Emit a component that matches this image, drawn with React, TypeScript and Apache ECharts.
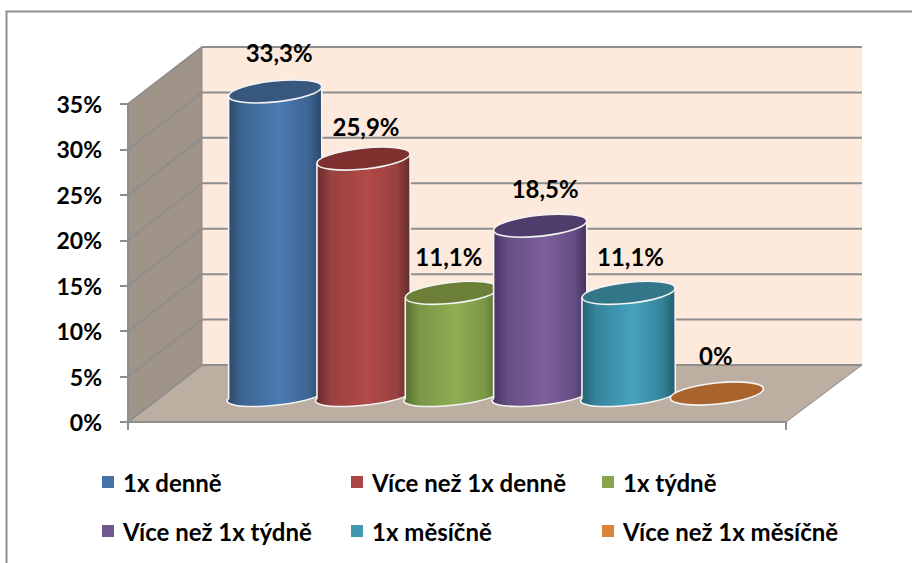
import React, { useEffect, useRef } from "react";
import * as echarts from "echarts";

const categories = ["1x denně", "Více než 1x denně", "1x týdně", "Více než 1x týdně", "1x měsíčně", "Více než 1x měsíčně"];
const values = [33.3, 25.9, 11.1, 18.5, 11.1, 0];
const yTicks = [0, 5, 10, 15, 20, 25, 30, 35];
const legendColors = ["#4572a7", "#aa4643", "#89a54e", "#71588f", "#4198af", "#db843d"];
const topColors = ["#37577f", "#7f3130", "#6b7f38", "#4f3c6c", "#337688", "#a8642c"];
const bodyDark = ["#294868", "#622b2a", "#536a2f", "#44305c", "#215d6e", "#8a4f22"];
const bodyMid = ["#3d6593", "#974140", "#7a9647", "#664f84", "#34849a", "#b56e30"];
const bodyLight = ["#4b7ab3", "#b24a48", "#90ae52", "#7c5f9c", "#46a2bd", "#db843d"];
const labelNudgeX = [4, 2.5, -3, 5, 2, -1];
const labelNudgeY = [-3, 4, 0, -1, 0, -2];
const legendLeft = [102, 351, 602, 102, 351, 602];
const legendTop = [470, 470, 470, 519, 519, 519];

const FONT = "Lato, Carlito, sans-serif";
const DEPTH_X = 74;
const DEPTH_Y = -57;
const GRID = "#8e8e8e";

function wallsItem(params: any, api: any) {
  const tick = api.value(0);
  const fl = api.coord([0, tick]);
  const fr = api.coord([1, tick]);
  const children: any[] = [];
  if (tick === 0) {
    const top = api.coord([0, 35]);
    const bl = [fl[0] + DEPTH_X, fl[1] + DEPTH_Y];
    const br = [fr[0] + DEPTH_X + 2, fr[1] + DEPTH_Y];
    const tl = [top[0] + DEPTH_X, top[1] + DEPTH_Y];
    const tr = [br[0], tl[1]];
    children.push(
      { type: "polygon", shape: { points: [tl, tr, br, bl] }, style: { fill: "#fdeadc" } },
      { type: "polygon", shape: { points: [[top[0], top[1]], tl, bl, fl] }, style: { fill: "#a09488", stroke: GRID, lineWidth: 1 } },
      { type: "polygon", shape: { points: [fl, bl, br, fr] }, style: { fill: "#bcaea0", stroke: GRID, lineWidth: 1 } }
    );
  }
  const bl = [fl[0] + DEPTH_X, fl[1] + DEPTH_Y];
  const br = [fr[0] + DEPTH_X + 2, fr[1] + DEPTH_Y];
  children.push(
    { type: "line", shape: { x1: fl[0], y1: fl[1], x2: bl[0], y2: bl[1] }, style: { stroke: GRID, lineWidth: 2 } },
    { type: "line", shape: { x1: bl[0], y1: bl[1], x2: br[0], y2: br[1] }, style: { stroke: GRID, lineWidth: 2 } }
  );
  return { type: "group", children };
}

function cylinderItem(i: number) {
  return (params: any, api: any) => {
    const v = api.value(1);
    const top = api.coord([api.value(0), v]);
    const base = api.coord([api.value(0), 0]);
    const a = api.size([1, 0])[0] * 0.53;
    const b = 10.5;
    const rot = 6;
    const rad = (rot * Math.PI) / 180;
    const dx = a * Math.cos(rad);
    const dy = a * Math.sin(rad);
    const stroke = { stroke: "#f4f4f4", lineWidth: 1.6 };
    const children: any[] = [];
    if (v > 0) {
      const d =
        `M ${top[0] - dx} ${top[1] + dy} ` +
        `L ${base[0] - dx} ${base[1] + dy} ` +
        `A ${a} ${b - 1.5} ${-rot} 0 0 ${base[0] + dx} ${base[1] - dy} ` +
        `L ${top[0] + dx} ${top[1] - dy} Z`;
      children.push({
        type: "path",
        shape: { pathData: d },
        style: {
          ...stroke,
          fill: new echarts.graphic.LinearGradient(0, 0, 1, 0, [
            { offset: 0, color: bodyDark[i] },
            { offset: 0.16, color: bodyMid[i] },
            { offset: 0.55, color: bodyLight[i] },
            { offset: 0.86, color: bodyMid[i] },
            { offset: 1, color: bodyDark[i] },
          ]),
        },
      });
    }
    children.push({
      type: "ellipse",
      shape: { cx: 0, cy: 0, rx: a, ry: b },
      x: top[0],
      y: top[1],
      rotation: rad,
      style: { ...stroke, fill: topColors[i] },
    });
    children.push({
      type: "text",
      z2: 100,
      style: {
        text: String(v).replace(".", ",") + "%",
        x: top[0] + labelNudgeX[i],
        y: top[1] - 36 + labelNudgeY[i],
        align: "center",
        verticalAlign: "middle",
        fontFamily: FONT,
        fontWeight: "bold",
        fontSize: 24,
        fill: "#000",
      },
    });
    return { type: "group", children };
  };
}

export default function App() {
  const ref = useRef<HTMLDivElement>(null);
  useEffect(() => {
    document.body.style.margin = "0";
    const chart = echarts.init(ref.current!, undefined, { renderer: "svg" });
    chart.setOption({
      animation: false,
      backgroundColor: "#fff",
      graphic: [
        {
          type: "rect",
          z: 0,
          shape: { x: 6.5, y: 11.5, width: 1200, height: 1000 },
          style: { fill: "none", stroke: "#8e8e8e", lineWidth: 2 },
        },
      ],
      grid: [
        { left: 128, width: 658, top: 104, height: 318 },
        { left: 231, width: 530, top: 76, height: 317.5 },
      ],
      xAxis: [
        {
          gridIndex: 0,
          type: "value",
          min: 0,
          max: 1,
          interval: 1,
          z: 5,
          splitLine: { show: false },
          axisLabel: { show: false },
          axisLine: { show: true, lineStyle: { color: GRID, width: 2 } },
          axisTick: { show: true, length: 8, lineStyle: { color: GRID, width: 2 } },
        },
        { gridIndex: 1, type: "category", data: categories, show: false },
      ],
      yAxis: [
        {
          gridIndex: 0,
          type: "value",
          min: 0,
          max: 35,
          interval: 5,
          z: 5,
          splitLine: { show: false },
          axisLine: { show: true, lineStyle: { color: GRID, width: 2 } },
          axisTick: { show: true, length: 8, lineStyle: { color: GRID, width: 2 } },
          axisLabel: {
            formatter: "{value}%",
            margin: 26,
            fontFamily: FONT,
            fontWeight: "bold",
            fontSize: 23,
            color: "#000",
          },
        },
        { gridIndex: 1, type: "value", min: 0, max: 35, interval: 5, show: false },
      ],
      legend: categories.map((name, i) => ({
        data: [name],
        left: legendLeft[i],
        top: legendTop[i],
        padding: 0,
        icon: "rect",
        itemWidth: 12,
        itemHeight: 12,
        selectedMode: false,
        textStyle: {
          fontFamily: FONT,
          fontWeight: "bold",
          fontSize: 24,
          color: "#000",
          padding: [0, 0, 0, 4],
        },
      })),
      series: [
        {
          type: "custom",
          name: "walls",
          silent: true,
          xAxisIndex: 0,
          yAxisIndex: 0,
          z: 1,
          data: yTicks.map((t) => [t]),
          encode: { y: 0 },
          renderItem: wallsItem,
        },
        ...categories.map((name, i) => ({
          type: "custom",
          name,
          xAxisIndex: 1,
          yAxisIndex: 1,
          z: 2,
          itemStyle: { color: legendColors[i] },
          data: [[i, values[i]]],
          encode: { x: 0, y: 1 },
          renderItem: cylinderItem(i),
        })),
      ],
    });
    return () => chart.dispose();
  }, []);
  return <div ref={ref} style={{ position: "absolute", left: 0, top: 0, width: 912, height: 563 }} />;
}
